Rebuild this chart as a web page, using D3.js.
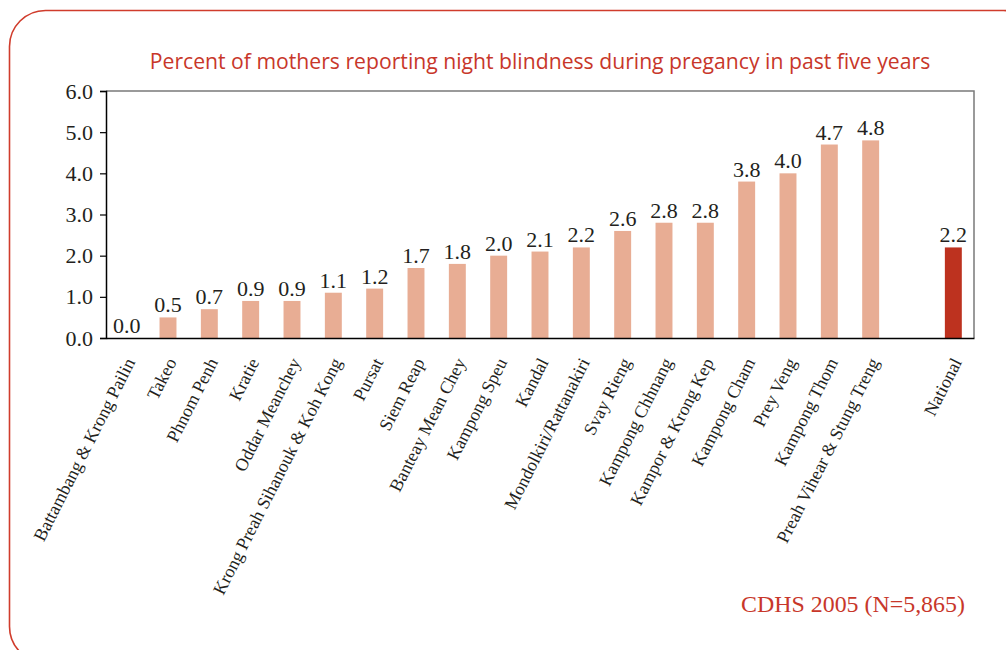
<!DOCTYPE html>
<html><head><meta charset="utf-8">
<script src="https://cdnjs.cloudflare.com/ajax/libs/d3/7.8.5/d3.min.js"></script>
<style>
html,body{margin:0;padding:0;background:#fff;}
svg{display:block;}
</style></head>
<body>
<script>
const categories = ["Battambang & Krong Pailin","Takeo","Phnom Penh","Kratie","Oddar Meanchey","Krong Preah Sihanouk & Koh Kong","Pursat","Siem Reap","Banteay Mean Chey","Kampong Speu","Kandal","Mondolkiri/Rattanakiri","Svay Rieng","Kampong Chhnang","Kampor & Krong Kep","Kampong Cham","Prey Veng","Kampong Thom","Preah Vihear & Stung Treng","","National"];
const values = [0.0,0.5,0.7,0.9,0.9,1.1,1.2,1.7,1.8,2.0,2.1,2.2,2.6,2.8,2.8,3.8,4.0,4.7,4.8,null,2.2];
const yTicks = [0,1,2,3,4,5,6];
const title = "Percent of mothers reporting night blindness during pregancy in past five years";
const source = "CDHS 2005 (N=5,865)";

(function(){
const W = 1006, H = 650;
const svg = d3.select("body").append("svg").attr("width", W).attr("height", H);

// border
svg.append("rect").attr("x", 9.5).attr("y", 10.5).attr("width", 1030).attr("height", 652)
  .attr("rx", 36).attr("ry", 36).attr("fill", "none").attr("stroke", "#d03c2c").attr("stroke-width", 1.6);

const mL = 106, mR = 974, mT = 91, mB = 338;
const x = d3.scaleBand().domain(d3.range(categories.length)).range([mL, mR]).paddingInner(0.59).paddingOuter(0.295);
const y = d3.scaleLinear().domain([0, 6]).range([mB, mT]);

// frame top/right gray
svg.append("path").attr("d", `M${mL},${mT}H${mR}V${mB}`).attr("fill", "none").attr("stroke", "#7a7a7a").attr("stroke-width", 1.5);

// bars
const data = values.map((v, i) => ({v, i, c: categories[i]})).filter(d => d.v !== null);
svg.selectAll("rect.bar").data(data).enter().append("rect").attr("class", "bar")
  .attr("x", d => x(d.i)).attr("width", x.bandwidth())
  .attr("y", d => y(d.v)).attr("height", d => y(0) - y(d.v))
  .attr("fill", d => d.c === "National" ? "#bd321f" : "#e8ad94");

// value labels
svg.selectAll("text.val").data(data).enter().append("text").attr("class", "val")
  .attr("x", d => x(d.i) + x.bandwidth() / 2).attr("y", d => y(d.v) - 5)
  .attr("text-anchor", "middle").attr("font-family", "Liberation Serif, serif").attr("font-size", 22).attr("fill", "#231f20")
  .text(d => d.v.toFixed(1));

// y axis
const ya = svg.append("g").attr("transform", `translate(${mL},0)`)
  .call(d3.axisLeft(y).tickValues(yTicks).tickFormat(d3.format(".1f")).tickSize(6).tickPadding(7));
ya.select(".domain").attr("stroke", "#000").attr("stroke-width", 1.5);
ya.selectAll(".tick line").attr("stroke", "#000").attr("stroke-width", 1.2);
ya.selectAll(".tick text").attr("font-family", "Liberation Serif, serif").attr("font-size", 22).attr("fill", "#231f20");

// x axis
const xa = svg.append("g").attr("transform", `translate(0,${mB})`)
  .call(d3.axisBottom(x).tickSize(0).tickFormat(i => categories[i]));
xa.select(".domain").attr("stroke", "#000").attr("stroke-width", 1.5);
xa.selectAll(".tick text")
  .attr("font-family", "Liberation Serif, serif").attr("font-size", 18).attr("fill", "#231f20")
  .attr("text-anchor", "end").attr("dy", 0).attr("y", 0)
  .attr("transform", "translate(9,24) rotate(-63)");

// title
const t = svg.append("text").attr("x", 540).attr("y", 69).attr("text-anchor", "middle")
  .attr("font-family", "Open Sans, sans-serif").attr("font-size", 20).attr("fill", "#c8372a").text(title);
const tw = t.node().getComputedTextLength();
t.attr("font-size", 20 * 781 / tw);

// source
const s = svg.append("text").attr("x", 853).attr("y", 612).attr("text-anchor", "middle")
  .attr("font-family", "Liberation Serif, serif").attr("font-size", 22).attr("fill", "#c8372a").text(source);
const sw = s.node().getComputedTextLength();
s.attr("font-size", 22 * 224 / sw);
})();
</script>
</body></html>
